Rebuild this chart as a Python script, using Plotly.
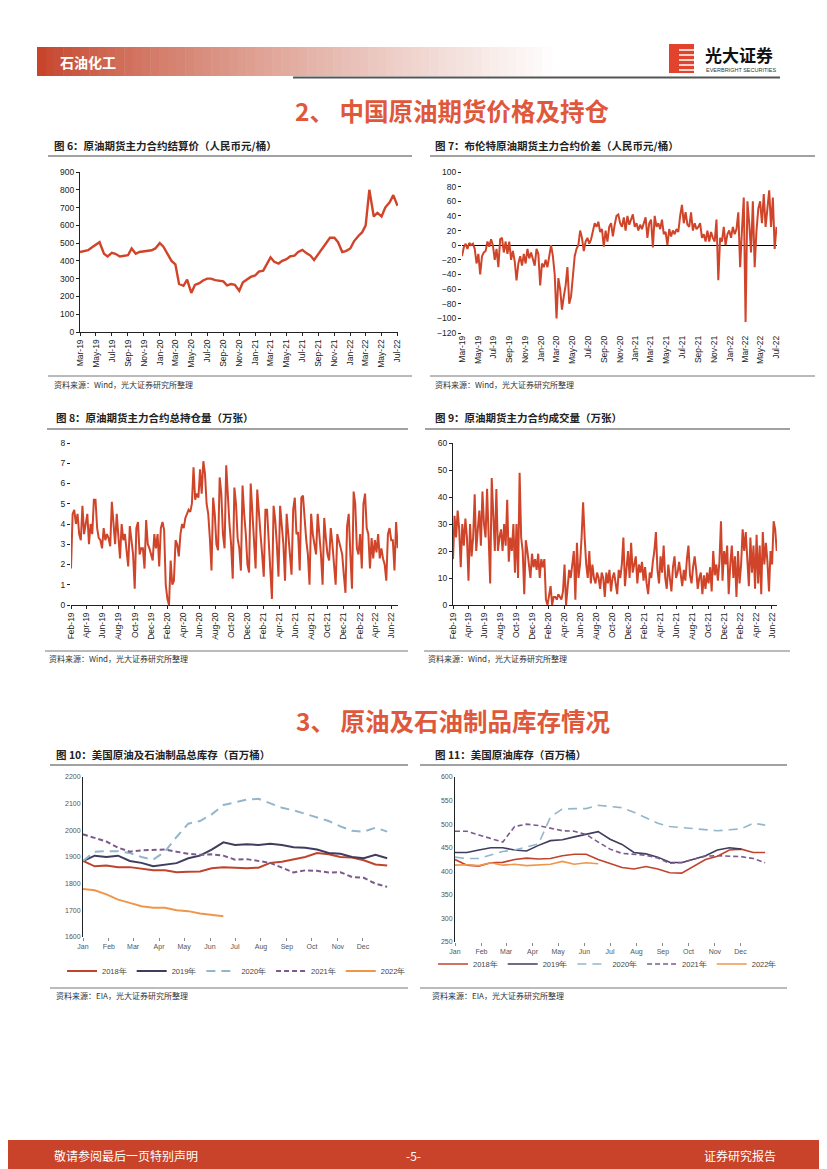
import plotly.graph_objects as go
import pandas as pd

# page is 827x1169; the browser body margin shifts the figure by 8px
OFF = 8
W, H = 827 - OFF, 1169 - OFF
def px(x): return (x - OFF) / W
def py(y): return 1 - (y - OFF) / H

NUM = 'Liberation Sans, Arial, sans-serif'
CJK = 'Noto Sans CJK SC, sans-serif'
RED = '#D0452A'

# ---------------- data ----------------
# Fig 6: SC main contract settlement price (CNY/bbl), semi-monthly readings from Mar-19
price_vals = [450, 455, 460, 475, 490, 505, 440, 425, 445, 440, 425, 430, 432, 470, 440, 450,
              455, 455, 460, 470, 500, 480, 440, 400, 380, 270, 260, 295, 220, 265, 275, 290,
              300, 300, 292, 290, 285, 262, 270, 265, 232, 280, 295, 310, 318, 340, 345, 380,
              420, 395, 385, 400, 410, 425, 430, 450, 462, 445, 430, 405, 440, 470, 505, 530,
              530, 505, 450, 455, 470, 510, 540, 560, 600, 800, 650, 670, 650, 700, 730, 770, 710]

# Fig 7: Brent - SC spread (CNY/bbl), weekly readings Mar-19 .. Jul-22
spread_vals = [-15, -3, 2, -5, 3, 0, 2, -5, -25, -12, -40, -15, -10, -8, 5, -2, 8,
               0, -20, -5, -30, 8, 10, -10, 5, -12, 5, -20, -8, -22, -48, -25, -15, -28,
               -12, -25, -5, -18, -10, -20, -28, -5, -12, -55, -25, -30, -20,
               -30, -15, 0, -15, -40, -100, -45, -60, -88, -70, -55, -30, -80,
               -70, -40, -15, -5, 0, 20, 10, -8, 5, 10, 2, 8, 20, 30, 25, 32, 18, 22,
               -2, 20, 5, 25, 30, 12, 28, 40, 42, 30, 25, 38, 20, 40, 28, 35, 42,
               25, 30, 20, 28, 22, 30, 38, 10, 30, 35, -3, 40, 25, 30, 22, 35, 15,
               18, 0, 22, 12, 20, 15, 22, 18, 40, 55, 30, 45, 28, 25, 45, 20, 30, 22,
               25, 30, 10, 15, 5, 20, 5, 18, 10, 5, 35, -48, 10, 5, 25, 0, 15,
               20, 10, 25, 15, 22, 45, -30, 20, 65, -105, 60, 30, -10, 60, -30, 20, 50,
               60, 30, 70, 25, 50, 75, 25, 65, -5, 25]

# Fig 8: open interest (10k lots), readings Feb-19 .. Jun-22
oi_vals = [1.8, 4.5, 4.7, 4.0, 4.5, 3.5, 3.2, 4.9, 3.5, 4.0, 4.5, 3.0, 4.0, 3.5, 5.2, 5.2,
           3.8, 3.3, 3.2, 2.8, 3.8, 3.2, 3.5, 3.3, 2.9, 5.1, 4.0, 3.0, 4.5, 3.3, 2.3, 4.0,
           3.2, 3.5, 2.8, 1.9, 3.9, 3.0, 2.5, 0.8, 3.8, 4.1, 2.5, 2.8, 2.8, 1.8, 4.2, 3.0,
           2.8, 2.5, 2.2, 3.5, 2.8, 3.5, 1.9, 3.8, 4.1, 3.7, 1.0, 0.3, 0.0, 2.2, 1.0, 1.2,
           3.2, 3.0, 2.4, 3.5, 4.0, 3.8, 4.3, 4.5, 4.7, 4.6, 5.0, 6.8, 5.2, 5.5, 5.3, 6.7,
           5.5, 7.1, 6.5, 5.0, 4.5, 3.3, 1.7, 5.3, 4.5, 3.0, 2.7, 6.3, 5.5, 3.5, 2.8, 6.9,
           5.3, 4.0, 3.0, 1.3, 5.8, 5.0, 3.3, 2.8, 1.7, 5.9, 4.5, 3.5, 2.0, 1.6, 6.0, 4.5,
           3.0, 1.8, 5.7, 4.3, 3.5, 2.5, 1.4, 4.7, 4.7, 3.2, 2.0, 0.3, 4.9, 4.2, 3.0, 1.4,
           4.9, 4.0, 3.0, 1.2, 4.5, 3.5, 2.5, 1.5, 4.7, 5.3, 3.5, 3.6, 1.7, 5.3, 5.4, 4.0,
           3.2, 2.5, 1.0, 4.5, 3.5, 3.0, 2.5, 4.5, 3.5, 2.5, 1.0, 4.3, 3.3, 2.5, 2.2, 3.8,
           3.0, 2.0, 1.0, 3.5, 3.2, 2.8, 2.5, 1.5, 0.6, 3.9, 4.5, 2.5, 0.8, 5.6, 5.0, 2.8,
           2.5, 3.5, 1.8, 5.0, 5.5, 3.8, 3.5, 1.8, 3.3, 2.3, 3.2, 2.6, 3.5, 2.3, 2.8, 2.3,
           2.0, 1.2, 3.5, 3.8, 3.2, 3.2, 1.7, 4.1, 2.8]

# Fig 9: trading volume (10k lots), readings Feb-19 .. Jun-22
vol_vals = [17, 33, 25, 35, 28, 14, 30, 22, 32, 25, 9, 30, 18, 25, 41, 20, 28, 35, 22, 42,
            30, 25, 43, 26, 8, 47, 35, 20, 43, 20, 25, 28, 20, 30, 22, 39, 16, 25, 20, 30,
            12, 30, 10, 49, 25, 20, 4, 24, 20, 14, 10, 19, 14, 17, 13, 19, 10, 17, 14, 17,
            2, 0, 3, 7, 0, 3, 3, 2, 4, 3, 2, 5, 15, 0, 8, 13, 10, 15, 20, 2, 23, 10, 15, 25,
            38, 25, 15, 10, 20, 8, 15, 10, 8, 12, 10, 6, 12, 10, 3, 12, 8, 13, 5, 10, 12, 8,
            4, 13, 10, 15, 25, 7, 14, 20, 10, 23, 12, 15, 18, 8, 15, 12, 16, 9, 14, 8, 4, 12,
            10, 16, 20, 27, 13, 8, 18, 12, 22, 10, 6, 15, 10, 5, 14, 18, 10, 12, 16, 11, 7,
            13, 9, 17, 22, 11, 8, 14, 18, 13, 6, 10, 12, 4, 11, 6, 12, 8, 14, 5, 20, 11, 15,
            9, 16, 31, 9, 20, 15, 22, 4, 15, 22, 10, 18, 3, 20, 8, 15, 28, 20, 27, 18, 7, 25,
            12, 22, 6, 26, 8, 22, 4, 27, 15, 23, 16, 5, 20, 15, 31, 28, 20]

# Fig 10: US crude + products total stocks (mn bbl), bi-weekly
year_names = ['2018年', '2019年', '2020年', '2021年', '2022年']
total_2018 = [1885, 1865, 1868, 1862, 1862, 1856, 1850, 1850, 1843, 1845, 1846, 1858, 1862, 1860,
              1858, 1860, 1878, 1882, 1890, 1900, 1915, 1910, 1900, 1898, 1888, 1872, 1868]
total_2019 = [1885, 1905, 1900, 1905, 1885, 1878, 1865, 1870, 1877, 1895, 1905, 1928, 1955, 1945,
              1948, 1945, 1950, 1945, 1937, 1935, 1928, 1915, 1912, 1900, 1895, 1908, 1895]
total_2020 = [1885, 1920, 1922, 1922, 1915, 1900, 1890, 1920, 1975, 2025, 2035, 2060, 2095, 2105,
              2115, 2118, 2100, 2085, 2075, 2062, 2050, 2035, 2015, 1998, 1995, 2010, 1995]
total_2021 = [1985, 1972, 1958, 1935, 1920, 1925, 1927, 1928, 1920, 1912, 1908, 1910, 1905, 1890,
              1892, 1885, 1878, 1860, 1842, 1850, 1848, 1842, 1843, 1825, 1822, 1800, 1788]
total_2022 = [1780, 1775, 1760, 1740, 1728, 1715, 1710, 1710, 1700, 1697, 1688, 1682, 1678]

# Fig 11: US crude stocks (mn bbl), bi-weekly
crude_2018 = [425, 413, 411, 418, 419, 425, 428, 426, 427, 433, 436, 436, 425, 417, 408, 405, 410,
              405, 397, 396, 410, 425, 432, 445, 447, 440, 440]
crude_2019 = [440, 440, 445, 450, 450, 445, 443, 455, 465, 467, 473, 478, 484, 468, 457, 440, 437,
              430, 419, 418, 425, 433, 445, 450, 447]
crude_2020 = [430, 427, 427, 435, 442, 445, 452, 458, 515, 532, 533, 533, 540, 537, 535, 525, 513,
              502, 495, 493, 490, 488, 486, 488, 490, 502, 498]
crude_2021 = [485, 485, 477, 470, 462, 495, 500, 497, 492, 486, 485, 478, 462, 447, 438, 436, 434,
              428, 417, 419, 426, 432, 433, 432, 431, 427, 418]
crude_2022 = [413, 414, 412, 418, 413, 415, 412, 413, 415, 421, 415, 418, 416]

price_dates = pd.date_range('2019-03-01', periods=len(price_vals), freq='SMS')
spread_dates = pd.date_range('2019-03-01', '2022-07-01', periods=len(spread_vals))
oi_dates = pd.date_range('2019-02-01', '2022-06-25', periods=len(oi_vals))
vol_dates = pd.date_range('2019-02-01', '2022-06-20', periods=len(vol_vals))

def season_dates(vals):
    return pd.date_range('2000-01-01', periods=len(vals), freq='14D')

year_colors = ['#C0432C', '#3F3D5E', '#93B6CB', '#7D5A8E', '#F0964A']
year_dash = ['solid', 'solid', '9px,6px', '5px,3px', 'solid']

fig = go.Figure()

fig.add_trace(go.Scatter(x=price_dates, y=price_vals, mode='lines', xaxis='x', yaxis='y',
                         line=dict(color=RED, width=2.4), showlegend=False))
fig.add_trace(go.Scatter(x=spread_dates, y=spread_vals, mode='lines', xaxis='x2', yaxis='y2',
                         line=dict(color=RED, width=2), showlegend=False))
fig.add_trace(go.Scatter(x=oi_dates, y=oi_vals, mode='lines', xaxis='x3', yaxis='y3',
                         line=dict(color=RED, width=2), showlegend=False))
fig.add_trace(go.Scatter(x=vol_dates, y=vol_vals, mode='lines', xaxis='x4', yaxis='y4',
                         line=dict(color=RED, width=2), showlegend=False))

for name, vals, c, d in zip(year_names, [total_2018, total_2019, total_2020, total_2021, total_2022],
                            year_colors, year_dash):
    fig.add_trace(go.Scatter(x=season_dates(vals), y=vals, mode='lines', xaxis='x5', yaxis='y5',
                             name=name, legend='legend', line=dict(color=c, width=2, dash=d)))
for name, vals, c, d in zip(year_names, [crude_2018, crude_2019, crude_2020, crude_2021, crude_2022],
                            year_colors, year_dash):
    fig.add_trace(go.Scatter(x=season_dates(vals), y=vals, mode='lines', xaxis='x6', yaxis='y6',
                             name=name, legend='legend2', line=dict(color=c, width=1.6, dash=d)))

tickf = dict(family=NUM, size=8.5, color='#222')
tickf_s = dict(family=NUM, size=7, color='#555')

def date_x(dom, anchor, rng, t0, line=True, ticks='outside'):
    return dict(domain=dom, anchor=anchor, type='date', range=rng, tick0=t0, dtick='M2',
                tickformat='%b-%y', tickangle=-90, tickfont=tickf, ticks=ticks, ticklen=3,
                tickcolor='#222', showgrid=False, showline=line, linecolor='#222', linewidth=1,
                zeroline=False, automargin=False)

def num_y(dom, anchor, rng, dt, line=True, zl=False):
    return dict(domain=dom, anchor=anchor, range=rng, dtick=dt, tickfont=tickf, ticks='outside',
                ticklen=3, tickcolor='#222', showgrid=False, showline=line, linecolor='#222',
                linewidth=1, zeroline=zl, zerolinecolor='#000', zerolinewidth=1.2, automargin=False)

def season_x(dom, anchor):
    return dict(domain=dom, anchor=anchor, type='date', range=['2000-01-01', '2000-12-31'],
                tick0='2000-01-01', dtick='M1', tickformat='%b', tickfont=tickf_s, ticks='outside',
                ticklen=3, tickcolor='#888', showgrid=False, showline=False, zeroline=False,
                automargin=False)

def season_y(dom, anchor, rng, dt):
    return dict(domain=dom, anchor=anchor, range=rng, dtick=dt, tickfont=tickf_s, ticks='',
                showgrid=False, showline=True, linecolor='#222', linewidth=1, zeroline=False,
                automargin=False)

leg_common = dict(orientation='h', xanchor='left', yanchor='middle',
                  font=dict(family=NUM, size=7.5, color='#444'),
                  itemwidth=30, tracegroupgap=0,
                  bgcolor='rgba(0,0,0,0)', borderwidth=0)

fig.update_layout(
    width=W, height=H, autosize=False,
    margin=dict(l=0, r=0, t=0, b=0, pad=0, autoexpand=False),
    paper_bgcolor='white', plot_bgcolor='white',
    xaxis=date_x([px(80), px(398)], 'y', ['2019-03-01', '2022-07-03'], '2019-03-01'),
    yaxis=num_y([py(332), py(172)], 'x', [0, 900], 100),
    xaxis2=date_x([px(462), px(777)], 'y2', ['2019-03-01', '2022-07-03'], '2019-03-01', line=False, ticks=''),
    yaxis2=num_y([py(333), py(172)], 'x2', [-120, 100], 20, line=False, zl=True),
    xaxis3=date_x([px(71), px(398)], 'y3', ['2019-02-01', '2022-06-26'], '2019-02-01'),
    yaxis3=num_y([py(605), py(443)], 'x3', [0, 8], 1, line=False),
    xaxis4=date_x([px(453), px(777)], 'y4', ['2019-02-01', '2022-06-21'], '2019-02-01'),
    yaxis4=num_y([py(605), py(443)], 'x4', [0, 60], 10),
    xaxis5=season_x([px(83), px(388)], 'y5'),
    yaxis5=season_y([py(937), py(777)], 'x5', [1600, 2200], 100),
    xaxis6=season_x([px(455), px(766)], 'y6'),
    yaxis6=season_y([py(942), py(777)], 'x6', [250, 600], 50),
    legend=dict(leg_common, x=px(62), y=py(971)),
    legend2=dict(leg_common, x=px(433), y=py(964)),
)

shapes = []
ann = []

# header gradient bar
n = 60
x0, x1 = 37, 560
for i in range(n):
    t = i / (n - 1)
    r = int(200 + (255 - 200) * t)
    g = int(68 + (255 - 68) * t ** 0.8)
    b = int(42 + (255 - 42) * t ** 0.8)
    xa = x0 + (x1 - x0) * i / n
    xb = x0 + (x1 - x0) * (i + 1) / n + 0.5
    shapes.append(dict(type='rect', xref='paper', yref='paper', x0=px(xa), x1=px(xb),
                       y0=py(76), y1=py(47), fillcolor=f'rgb({r},{g},{b})', line=dict(width=0),
                       layer='below'))
shapes.append(dict(type='line', xref='paper', yref='paper', x0=px(293), x1=px(780), y0=py(77.5),
                   y1=py(77.5), line=dict(color='#555', width=2)))
ann.append(dict(text='<b>石油化工</b>', x=px(58), y=py(62), font=dict(family=CJK, size=14, color='white')))

# logo
shapes.append(dict(type='rect', xref='paper', yref='paper', x0=px(669), x1=px(694), y0=py(73),
                   y1=py(44), fillcolor='#E2432C', line=dict(width=0)))
for yy in [50, 55, 60, 65, 70]:
    shapes.append(dict(type='line', xref='paper', yref='paper', x0=px(679), x1=px(694), y0=py(yy),
                       y1=py(yy), line=dict(color='white', width=1.5)))
ann.append(dict(text='<b>光大证券</b>', x=px(703), y=py(55), font=dict(family=CJK, size=17, color='#111')))
ann.append(dict(text='EVERBRIGHT SECURITIES', x=px(704), y=py(70), font=dict(family=NUM, size=5.5, color='#333')))

# section titles
ann.append(dict(text='<b>2、 中国原油期货价格及持仓</b>', x=px(453), y=py(110), xanchor='center',
                font=dict(family=CJK, size=24.5, color='#E0583C')))
ann.append(dict(text='<b>3、 原油及石油制品库存情况</b>', x=px(453), y=py(720), xanchor='center',
                font=dict(family=CJK, size=24.5, color='#E0583C')))

# chart titles & sources
titles = [
    ('图 6：原油期货主力合约结算价（人民币元/桶）', 52, 145, 48, 412, 156),
    ('图 7：布伦特原油期货主力合约价差（人民币元/桶）', 433, 145, 430, 815, 156),
    ('图 8：原油期货主力合约总持仓量（万张）', 54, 418, 47, 408, 429),
    ('图 9：原油期货主力合约成交量（万张）', 433, 418, 425, 790, 429),
    ('图 10：美国原油及石油制品总库存（百万桶）', 54, 754, 50, 408, 765),
    ('图 11：美国原油库存（百万桶）', 433, 754, 420, 787, 765),
]
for t, tx, ty, l0, l1, ly in titles:
    ann.append(dict(text='<b>' + t + '</b>', x=px(tx), y=py(ty), font=dict(family=CJK, size=10.5, color='#222')))
    shapes.append(dict(type='line', xref='paper', yref='paper', x0=px(l0), x1=px(l1), y0=py(ly),
                       y1=py(ly), line=dict(color='#444', width=1)))

sources = [
    ('资料来源：Wind，光大证券研究所整理', 52, 385, 48, 412, 376),
    ('资料来源：Wind，光大证券研究所整理', 433, 385, 430, 815, 376),
    ('资料来源：Wind，光大证券研究所整理', 47, 658, 45, 408, 651),
    ('资料来源：Wind，光大证券研究所整理', 426, 658, 424, 790, 651),
    ('资料来源：EIA，光大证券研究所整理', 54, 995, 50, 408, 988),
    ('资料来源：EIA，光大证券研究所整理', 430, 995, 420, 787, 988),
]
for t, tx, ty, l0, l1, ly in sources:
    ann.append(dict(text=t, x=px(tx), y=py(ty), font=dict(family=CJK, size=8, color='#333')))
    shapes.append(dict(type='line', xref='paper', yref='paper', x0=px(l0), x1=px(l1), y0=py(ly),
                       y1=py(ly), line=dict(color='#777', width=1)))

# footer
shapes.append(dict(type='rect', xref='paper', yref='paper', x0=0, x1=1, y0=0, y1=py(1140),
                   fillcolor='#C8432A', line=dict(width=0)))
ann.append(dict(text='敬请参阅最后一页特别声明', x=px(52), y=py(1155), font=dict(family=CJK, size=12, color='white')))
ann.append(dict(text='-5-', x=px(413), y=py(1155), xanchor='center', font=dict(family=CJK, size=12, color='white')))
ann.append(dict(text='证券研究报告', x=px(778), y=py(1155), xanchor='right', font=dict(family=CJK, size=12, color='white')))

for a in ann:
    a.setdefault('xref', 'paper')
    a.setdefault('yref', 'paper')
    a.setdefault('xanchor', 'left')
    a.setdefault('yanchor', 'middle')
    a['showarrow'] = False

fig.update_layout(shapes=shapes, annotations=ann)
fig.write_html('out.html')
